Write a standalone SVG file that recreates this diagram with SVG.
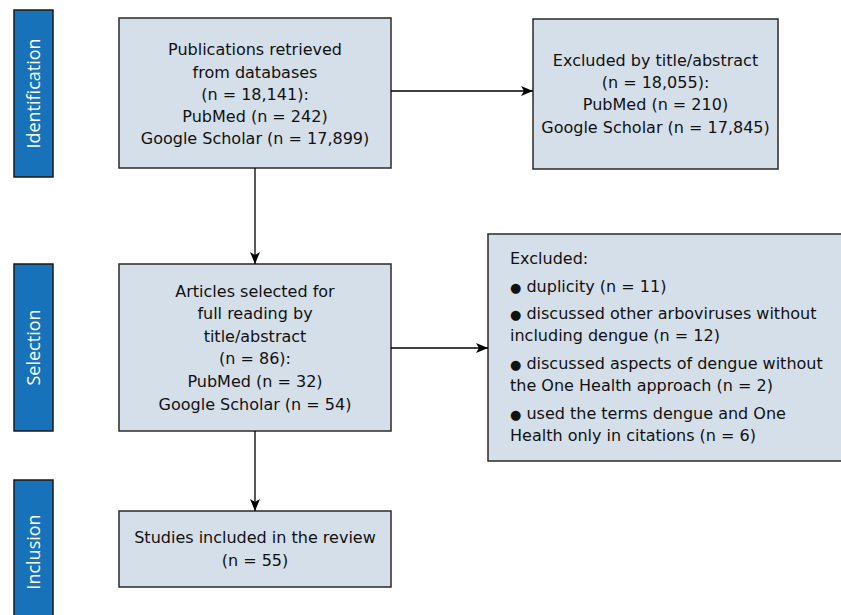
<svg xmlns="http://www.w3.org/2000/svg" width="841" height="615" viewBox="0 0 841 615">
<defs>
<marker id="ah" markerWidth="12" markerHeight="10" refX="12" refY="5" orient="auto" markerUnits="userSpaceOnUse">
<path d="M0,0 L12,5 L0,10 L3,5 Z" fill="#000"/>
</marker>
<style>
.bar{fill:#1872b9;stroke:#1a1a1a;stroke-width:1.5}
.bar-t{fill:#fff;font-family:"Open Sans","Noto Sans",sans-serif;font-size:18px;text-anchor:middle}
.box{fill:#d5dfe9;stroke:#2a2a2a;stroke-width:1.5}
.t{fill:#111;font-family:"DejaVu Sans",sans-serif;font-size:16px}
.c{text-anchor:middle}
.b{font-size:13px}
.ln{stroke:#000;stroke-width:1.3;fill:none}
</style>
</defs>
<rect width="841" height="615" fill="#fff"/>
<g id="stage-identification">
<rect class="bar" x="14" y="10" width="39" height="167"/>
<text class="bar-t" transform="translate(39.5,93.5) rotate(-90)">Identification</text>
</g>
<g id="stage-selection">
<rect class="bar" x="14" y="264" width="39" height="167"/>
<text class="bar-t" transform="translate(39.5,347.5) rotate(-90)">Selection</text>
</g>
<g id="stage-inclusion">
<rect class="bar" x="14" y="480" width="39" height="145"/>
<text class="bar-t" transform="translate(39.5,552) rotate(-90)">Inclusion</text>
</g>
<g id="retrieved">
<rect class="box" x="119" y="18" width="272" height="150"/>
<text class="t c" x="255" y="55">Publications retrieved</text>
<text class="t c" x="255" y="77.5">from databases</text>
<text class="t c" x="255" y="100">(n = 18,141):</text>
<text class="t c" x="255" y="122">PubMed (n = 242)</text>
<text class="t c" x="255" y="144">Google Scholar (n = 17,899)</text>
</g>
<g id="excluded-title">
<rect class="box" x="533" y="19" width="245" height="150"/>
<text class="t c" x="655.5" y="66">Excluded by title/abstract</text>
<text class="t c" x="655.5" y="88">(n = 18,055):</text>
<text class="t c" x="655.5" y="110">PubMed (n = 210)</text>
<text class="t c" x="655.5" y="133">Google Scholar (n = 17,845)</text>
</g>
<g id="selected">
<rect class="box" x="119" y="264" width="272" height="167"/>
<text class="t c" x="255" y="297">Articles selected for</text>
<text class="t c" x="255" y="319">full reading by</text>
<text class="t c" x="255" y="341.5">title/abstract</text>
<text class="t c" x="255" y="364">(n = 86):</text>
<text class="t c" x="255" y="386.5">PubMed (n = 32)</text>
<text class="t c" x="255" y="409.5">Google Scholar (n = 54)</text>
</g>
<g id="excluded-full">
<rect class="box" x="488" y="234" width="370" height="227"/>
<text class="t" x="510" y="264">Excluded:</text>
<text class="t" x="510" y="292"><tspan class="b">●</tspan> duplicity (n = 11)</text>
<text class="t" x="510" y="319"><tspan class="b">●</tspan> discussed other arboviruses without</text>
<text class="t" x="510" y="341">including dengue (n = 12)</text>
<text class="t" x="510" y="369"><tspan class="b">●</tspan> discussed aspects of dengue without</text>
<text class="t" x="510" y="391">the One Health approach (n = 2)</text>
<text class="t" x="510" y="419"><tspan class="b">●</tspan> used the terms dengue and One</text>
<text class="t" x="510" y="441">Health only in citations (n = 6)</text>
</g>
<g id="included">
<rect class="box" x="119" y="511" width="272" height="76"/>
<text class="t c" x="255" y="543">Studies included in the review</text>
<text class="t c" x="255" y="566">(n = 55)</text>
</g>
<g id="connectors">
<line class="ln" x1="391" y1="91" x2="533" y2="91" marker-end="url(#ah)"/>
<line class="ln" x1="255" y1="168" x2="255" y2="264" marker-end="url(#ah)"/>
<line class="ln" x1="391" y1="348" x2="488" y2="348" marker-end="url(#ah)"/>
<line class="ln" x1="255" y1="431" x2="255" y2="511" marker-end="url(#ah)"/>
</g>
</svg>
